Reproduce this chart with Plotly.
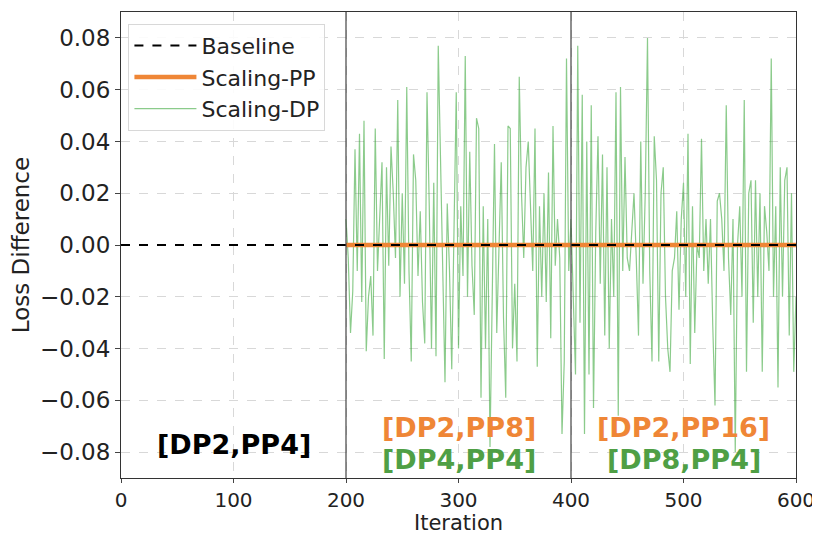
import plotly.graph_objects as go

# ---- data ----
dp_iter = list(range(200, 601, 2))
dp_diff = [
    # 200-248
    0.010, -0.005, -0.034, -0.018, 0.037, -0.010, 0.043, -0.022, 0.048, -0.041,
    -0.020, -0.012, -0.035, 0.045, -0.010, 0.015, 0.032, -0.044, 0.030, -0.008,
    0.038, 0.020, -0.005, 0.056, -0.020,
    # 250-296
    0.020, -0.015, 0.061, -0.010, -0.045, 0.035, 0.025, -0.012, 0.013, -0.022,
    -0.038, 0.059, 0.015, -0.040, 0.024, -0.043, 0.077, 0.032, -0.020, -0.053,
    0.016, -0.010, -0.048, 0.005,
    # 298-344
    0.059, -0.040, 0.015, -0.012, 0.073, -0.020, 0.036, -0.008, -0.027, 0.049,
    0.045, -0.059, 0.015, -0.040, 0.010, -0.078, -0.020, 0.039, -0.034, 0.000,
    0.032, -0.028, -0.059, 0.046,
    # 346-394
    0.045, -0.040, -0.015, -0.045, 0.065, 0.020, -0.005, 0.030, 0.040, 0.015,
    -0.010, 0.045, -0.047, 0.015, -0.020, 0.020, -0.022, 0.028, -0.036, 0.046,
    -0.008, 0.010, -0.005, -0.073, -0.045,
    # 396-442
    0.072, -0.010, 0.010, -0.020, -0.050, 0.077, -0.030, 0.058, -0.073, 0.040,
    -0.050, 0.054, -0.063, 0.005, 0.042, -0.015, 0.035, -0.035, 0.030, -0.040,
    0.010, -0.020, 0.059, -0.066,
    # 444-490
    0.061, -0.010, 0.034, -0.005, -0.010, 0.005, 0.020, -0.005, -0.035, 0.040,
    -0.015, 0.020, 0.080, -0.010, -0.045, 0.042, 0.025, -0.045, 0.020, 0.030,
    -0.020, -0.040, -0.049, -0.010,
    # 492-540
    -0.005, 0.013, -0.025, 0.010, 0.024, -0.020, 0.043, -0.046, 0.015, -0.034,
    0.000, -0.005, 0.041, -0.010, 0.010, -0.015, 0.010, -0.031, -0.062, 0.017,
    0.020, 0.010, -0.010, 0.054, -0.005,
    # 542-600
    -0.027, 0.010, -0.080, 0.000, 0.015, -0.020, 0.056, -0.049, 0.020, 0.025,
    -0.030, 0.025, -0.020, 0.020, -0.049, 0.015, 0.005, -0.010, 0.072, -0.020,
    0.015, -0.055, 0.030, -0.020, 0.025, 0.030, -0.035, 0.020, -0.049, -0.020,
]
pp_iter = [200, 600]
pp_diff = [0.0, 0.0]
base_iter = [0, 600]
base_diff = [0.0, 0.0]
switch_points = [200, 400]
y_ticks = [-0.08, -0.06, -0.04, -0.02, 0.0, 0.02, 0.04, 0.06, 0.08]
x_ticks = [0, 100, 200, 300, 400, 500, 600]

FONT = "DejaVu Sans"
ORANGE = "#ef8636"
GREEN_TXT = "#4f9f45"

fig = go.Figure()
fig.add_trace(go.Scatter(x=dp_iter, y=dp_diff, mode="lines", name="Scaling-DP",
                         line=dict(color="rgba(44,160,44,0.55)", width=1.2)))
fig.add_trace(go.Scatter(x=pp_iter, y=pp_diff, mode="lines", name="Scaling-PP",
                         line=dict(color=ORANGE, width=4.5)))
fig.add_trace(go.Scatter(x=base_iter, y=base_diff, mode="lines", name="Baseline",
                         line=dict(color="black", width=2, dash="dash")))

for xv in switch_points:
    fig.add_shape(type="line", x0=xv, x1=xv, y0=0, y1=1, xref="x", yref="paper",
                  line=dict(color="#444444", width=1.2), layer="above")

ann = [
    (100, -0.0772, "<b>[DP2,PP4]</b>", "black"),
    (300, -0.0703, "<b>[DP2,PP8]</b>", ORANGE),
    (300, -0.0827, "<b>[DP4,PP4]</b>", GREEN_TXT),
    (500, -0.0703, "<b>[DP2,PP16]</b>", ORANGE),
    (500, -0.0827, "<b>[DP8,PP4]</b>", GREEN_TXT),
]
for xv, yv, txt, col in ann:
    fig.add_annotation(x=xv, y=yv, text=txt, showarrow=False,
                       font=dict(family=FONT, size=27, color=col))

# x-axis title placed as annotation to keep it inside the page
fig.add_annotation(x=0.5, y=0, xref="paper", yref="paper", yanchor="middle",
                   yshift=-45, text="Iteration", showarrow=False,
                   font=dict(family=FONT, size=21, color="#222222"))

fig.update_layout(
    width=820, height=538,
    margin=dict(l=113, r=32, t=4, b=68, autoexpand=False),
    paper_bgcolor="white", plot_bgcolor="white",
    font=dict(family=FONT, size=22, color="#222222"),
    showlegend=True,
    legend=dict(x=0.011, y=0.975, xanchor="left", yanchor="top",
                traceorder="reversed", bgcolor="rgba(255,255,255,0.9)",
                bordercolor="#d8d8d8", borderwidth=1,
                font=dict(family=FONT, size=22, color="#222222"),
                itemwidth=62, tracegroupgap=0),
)
fig.update_xaxes(range=[0, 600], tickvals=x_ticks, ticks="outside", ticklen=4,
                 tickfont=dict(size=20), showline=True, linecolor="#333333",
                 linewidth=1, mirror=True, showgrid=True, gridcolor="#d8d8d8",
                 griddash="dash", gridwidth=1, zeroline=False)
fig.update_yaxes(range=[-0.09, 0.09], tickvals=y_ticks, tickformat=".2f",
                 ticks="outside", ticklen=5, tickfont=dict(size=23),
                 showline=True, linecolor="#333333", linewidth=1, mirror=True,
                 showgrid=True, gridcolor="#d8d8d8", griddash="dash", gridwidth=1,
                 zeroline=False,
                 title=dict(text="Loss Difference", font=dict(size=23), standoff=9))

fig.write_html("out.html")
